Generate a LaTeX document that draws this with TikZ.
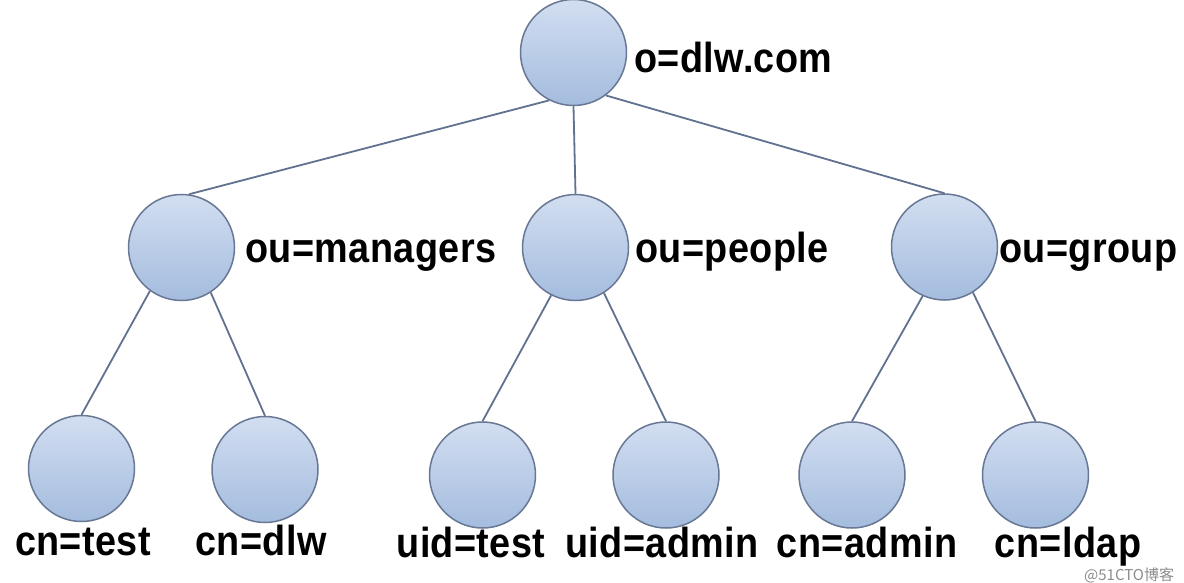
\documentclass[tikz,border=0pt]{standalone}
\usepackage{fontspec}
\newfontfamily\lblfont{Liberation Sans}[FakeStretch=0.9,LetterSpace=1]
\newfontfamily\cjkfont{Noto Sans CJK SC}
\definecolor{circtop}{RGB}{210,222,241}
\definecolor{circbot}{RGB}{164,188,222}
\definecolor{circline}{RGB}{104,120,148}
\definecolor{edgecol}{RGB}{96,114,144}
\begin{document}
\begin{tikzpicture}[x=1pt,y=-1pt,
  ent/.style={circle,draw=circline,line width=1.5pt,minimum size=106pt,inner sep=0pt,
    top color=circtop,bottom color=circbot},
  lbl/.style={font=\lblfont\bfseries\fontsize{42}{50}\selectfont,text=black,inner sep=0pt},
  edge/.style={draw=edgecol,line width=1.8pt}]
\useasboundingbox (0,0) rectangle (1184,583);
\fill[white] (0,0) rectangle (1184,583);
% nodes
\node[ent] (top) at (573.5,52.5) {};
\node[ent] (mgr) at (181.5,247.5) {};
\node[ent] (ppl) at (575.5,247.5) {};
\node[ent] (grp) at (944.5,247) {};
\node[ent] (cntest) at (81.5,468.5) {};
\node[ent] (cndlw) at (265,469.5) {};
\node[ent] (uidtest) at (482.5,475) {};
\node[ent] (uidadmin) at (666,475) {};
\node[ent] (cnadmin) at (852,475) {};
\node[ent] (cnldap) at (1035.5,475) {};
% labels
\node[lbl,anchor=base west] (ltop) at (634,73) {o=dlw.com};
\node[lbl,anchor=base west] (lmgr) at (245,262) {ou=managers};
\node[lbl,anchor=base west] (lppl) at (635,262) {ou=people};
\node[lbl,anchor=base west] (lgrp) at (999,262) {ou=group};
\node[lbl,anchor=base] (lcntest) at (83,555) {cn=test};
\node[lbl,anchor=base] (lcndlw) at (261,555) {cn=dlw};
\node[lbl,anchor=base] (luidtest) at (471,557) {uid=test};
\node[lbl,anchor=base] (luidadmin) at (662,557) {uid=admin};
\node[lbl,anchor=base] (lcnadmin) at (867,557) {cn=admin};
\node[lbl,anchor=base] (lcnldap) at (1068,557) {cn=ldap};
% edges
\draw[edge] (top.-117) -- (mgr.82);
\draw[edge] (top.-90) -- (ppl.north);
\draw[edge] (top.-53) -- (grp.north);
\draw[edge] (mgr.-126) -- (cntest.north);
\draw[edge] (mgr.-57) -- (cndlw.north);
\draw[edge] (ppl.-117) -- (uidtest.north);
\draw[edge] (ppl.-58) -- (uidadmin.north);
\draw[edge] (grp.-114) -- (cnadmin.north);
\draw[edge] (grp.-58) -- (cnldap.north);
% watermark
\node[anchor=base west,inner sep=0pt,text=black!45,font=\cjkfont\fontsize{15}{17}\selectfont] (wm) at (1084,580) {@51CTO博客};
\end{tikzpicture}
\end{document}
